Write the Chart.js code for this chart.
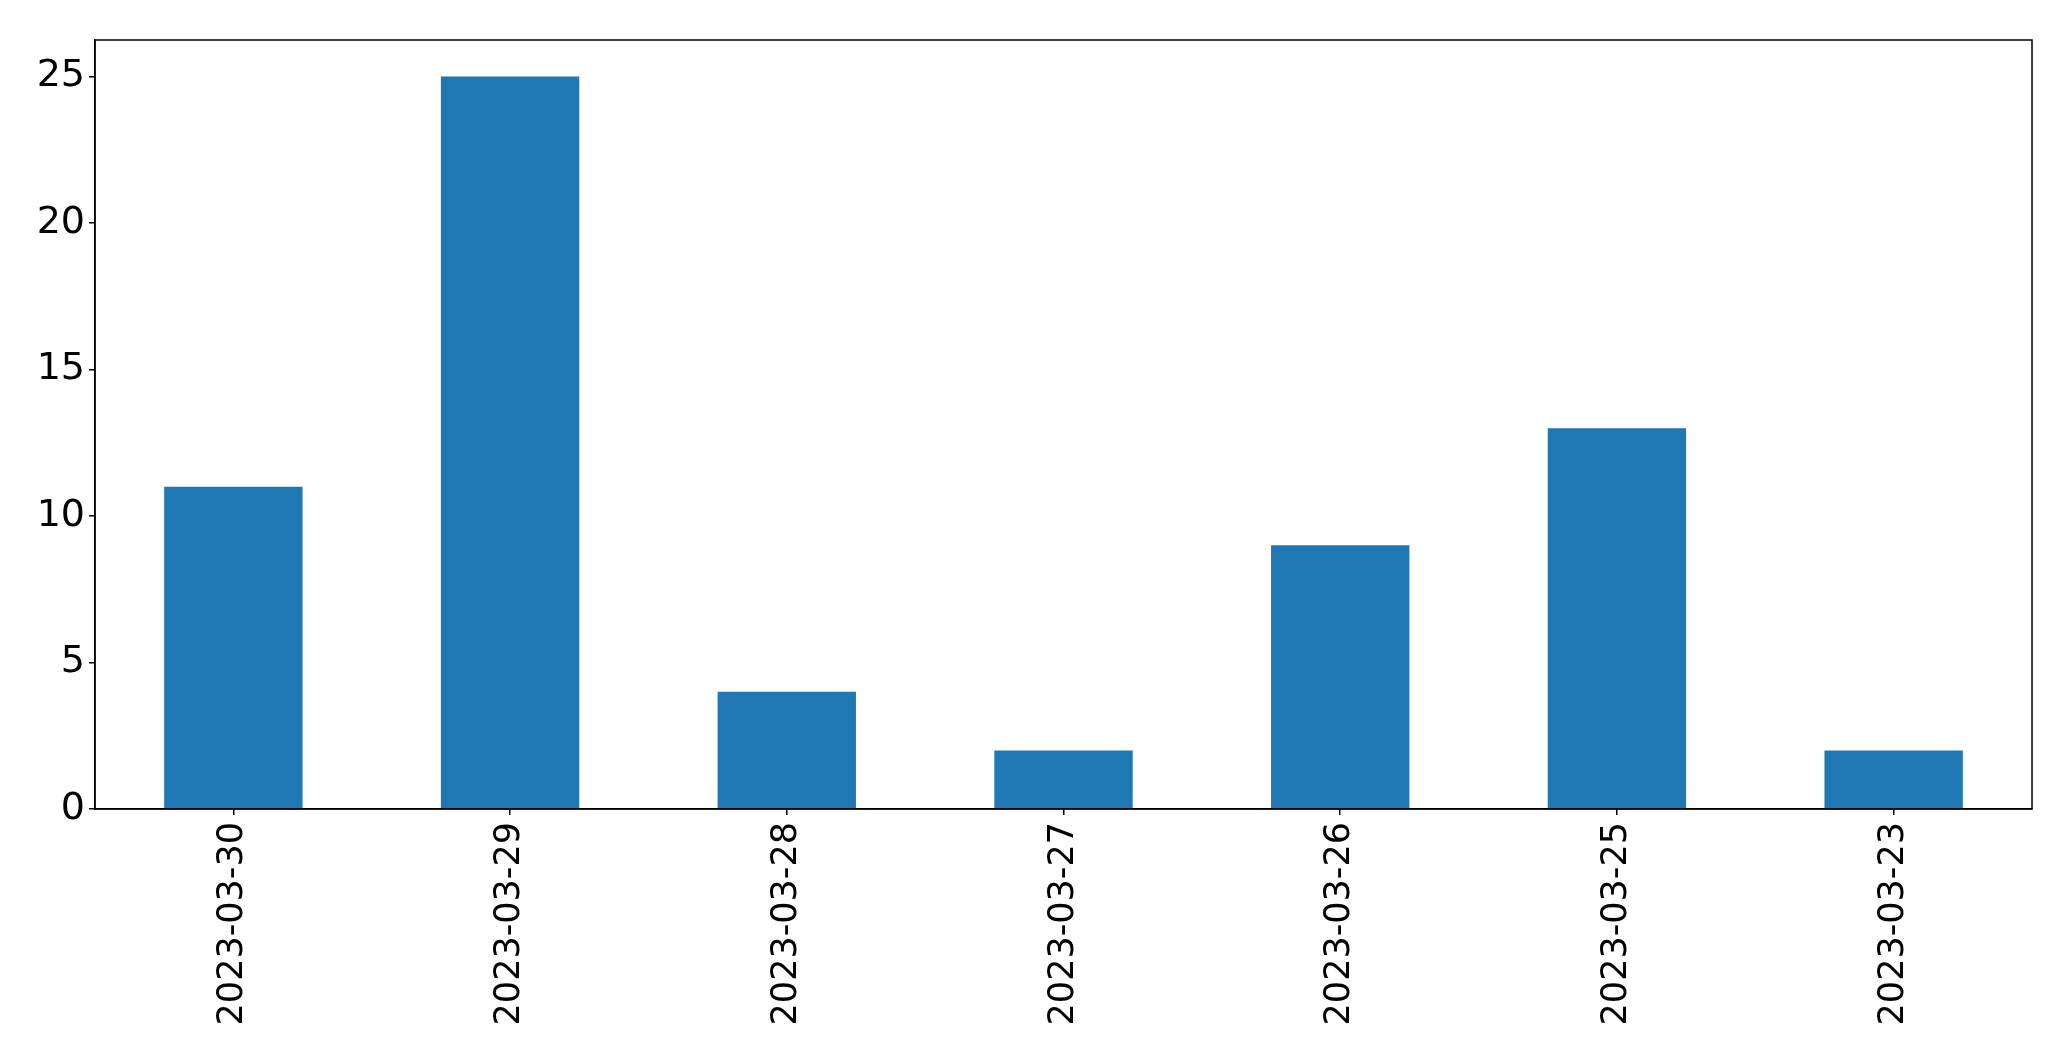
<!DOCTYPE html>
<html>
<head>
<meta charset="utf-8">
<script src="https://cdn.jsdelivr.net/npm/chart.js@4"></script>
<style>
  html, body { margin: 0; padding: 0; background: #fff; }
  #wrap { width: 2071px; height: 1061px; }
</style>
</head>
<body>
<div id="wrap"><canvas id="myChart" width="2071" height="1061"></canvas></div>
<script>
const dates = ['2023-03-30', '2023-03-29', '2023-03-28', '2023-03-27', '2023-03-26', '2023-03-25', '2023-03-23']
const counts = [11, 25, 4, 2, 9, 13, 2]
const yTicks = [0, 5, 10, 15, 20, 25]

// draws the top and right edges of the plot box
const frame = {
    id: 'frame',
    afterDraw(chart) {
        const { ctx, chartArea: a } = chart
        ctx.save()
        ctx.strokeStyle = '#000'
        ctx.lineWidth = 1.5
        ctx.strokeRect(a.left, a.top, a.right - a.left, a.bottom - a.top)
        ctx.restore()
    }
}

const ctx = document.getElementById('myChart').getContext('2d');
const myChart = new Chart(ctx, {
    type: 'bar',
    data: {
        labels: dates,
        datasets: [{
            data: counts,
            backgroundColor: '#1f77b4',
            borderWidth: 0,
            barPercentage: 0.5,
            categoryPercentage: 1
        }]
    },
    options: {
        responsive: false,
        animation: false,
        layout: { padding: { left: 0, right: 39, top: 40, bottom: 0 } },
        plugins: { legend: { display: false }, tooltip: { enabled: false } },
        scales: {
            x: {
                grid: { display: true, offset: false, drawOnChartArea: false, drawTicks: true, tickLength: 6, color: '#000', lineWidth: 1.5 },
                border: { display: true, color: '#000', width: 1.5 },
                ticks: {
                    color: '#000',
                    font: { family: 'DejaVu Sans', size: 35 },
                    minRotation: 90,
                    maxRotation: 90,
                    autoSkip: false,
                    padding: 7
                },
                afterFit(scale) { scale.height = 252 }
            },
            y: {
                min: 0,
                max: 26.25,
                grid: { display: true, drawOnChartArea: false, drawTicks: true, tickLength: 6, color: '#000', lineWidth: 1.5 },
                border: { display: true, color: '#000', width: 1.5 },
                afterBuildTicks(scale) { scale.ticks = yTicks.map(v => ({ value: v })) },
                ticks: {
                    color: '#000',
                    font: { family: 'DejaVu Sans', size: 38 },
                    padding: 4
                },
                afterFit(scale) { scale.width = 95 }
            }
        }
    },
    plugins: [frame]
});
</script>
</body>
</html>
